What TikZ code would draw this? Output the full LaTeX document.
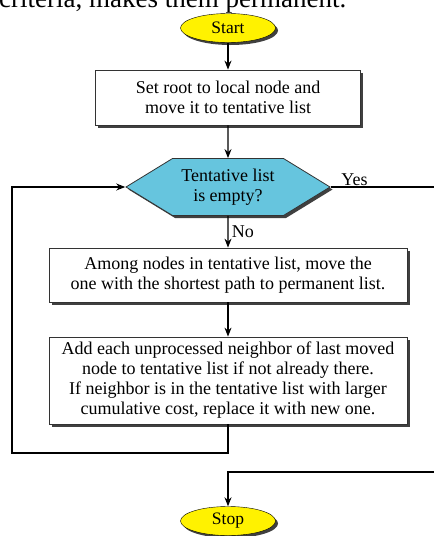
\documentclass[tikz,border=0pt]{standalone}
\usepackage{fontspec}
\setmainfont{Liberation Serif}
\usetikzlibrary{arrows.meta}
\usetikzlibrary{shapes.geometric, shapes.symbols, positioning, shadows}

\definecolor{hexblue}{RGB}{102,197,222}
\tikzset{
  boxshadow/.style={drop shadow={shadow xshift=2.5pt, shadow yshift=-2.5pt, fill=black!75, opacity=1}},
  terminal/.style={ellipse, draw, fill=yellow, minimum width=95pt, minimum height=29pt, inner sep=0pt, boxshadow, font=\fontsize{17.5}{20}\selectfont},
  process/.style={rectangle, draw=black!80, fill=white, line width=0.8pt, boxshadow, text centered, font=\fontsize{18}{20}\selectfont},
  decision/.style={signal, signal to=east and west, signal pointer angle=63, draw=black!80, fill=hexblue, line width=0.8pt, boxshadow, minimum width=204pt, minimum height=57pt, inner sep=0pt, text centered, align=center, font=\fontsize{18}{20}\selectfont},
  flow/.style={line width=1.2pt, -{Stealth[length=9pt,width=7pt]}},
  flowline/.style={line width=1.2pt},
  tag/.style={font=\fontsize{18}{20}\selectfont}
}

\begin{document}
\begin{tikzpicture}[x=1pt, y=1pt, node distance=88pt, auto]
    \useasboundingbox (0,0) rectangle (434,-536);
    \clip (0,0) rectangle (434,-536);

    % Caption cut off at the top
    \node [anchor=base west, inner sep=0pt, font=\fontsize{27}{30}\selectfont] (caption) at (-1,-7) {criteria, makes them permanent.};

    % Main column
    \node [terminal] (start) at (228,-28) {Start};
    \node [process, below of=start, yshift=18.5pt, minimum width=265pt, minimum height=55pt, align=center] (root) {Set root to local node and\\move it to tentative list};
    \node [decision, below of=root, yshift=-1.5pt] (empty) {Tentative list\\is empty?};
    \node [process, below of=empty, minimum width=358pt, minimum height=54pt, align=center] (move) {Among nodes in tentative list, move the\\one with the shortest path to permanent list.};
    \node [process, below of=move, yshift=-17.5pt, minimum width=358pt, minimum height=87pt, align=center] (update) {Add each unprocessed neighbor of last moved\\node to tentative list if not already there.\\If neighbor is in the tentative list with larger\\cumulative cost, replace it with new one.};
    \node [terminal, below of=update, yshift=-52.5pt] (stop) {Stop};

    % Loop and exit points
    \coordinate (loop) at (12,-453);
    \coordinate (yesout) at (434,-187);
    \coordinate (yesin) at (434,-472);

    % Arrows
    \draw [flow] (start) -- (root);
    \draw [flow] (root) -- (empty);
    \draw [flow] (empty) -- node [right, tag] {No} (move);
    \draw [flow] (move) -- (update);
    \draw [flow] (update.south) |- (loop) |- (empty.west);
    \draw [flowline] (empty.east) -- node [pos=0.23, above, inner sep=1pt, tag] {Yes} (yesout);
    \draw [flow] (yesin) -| (stop.north);

\end{tikzpicture}
\end{document}
